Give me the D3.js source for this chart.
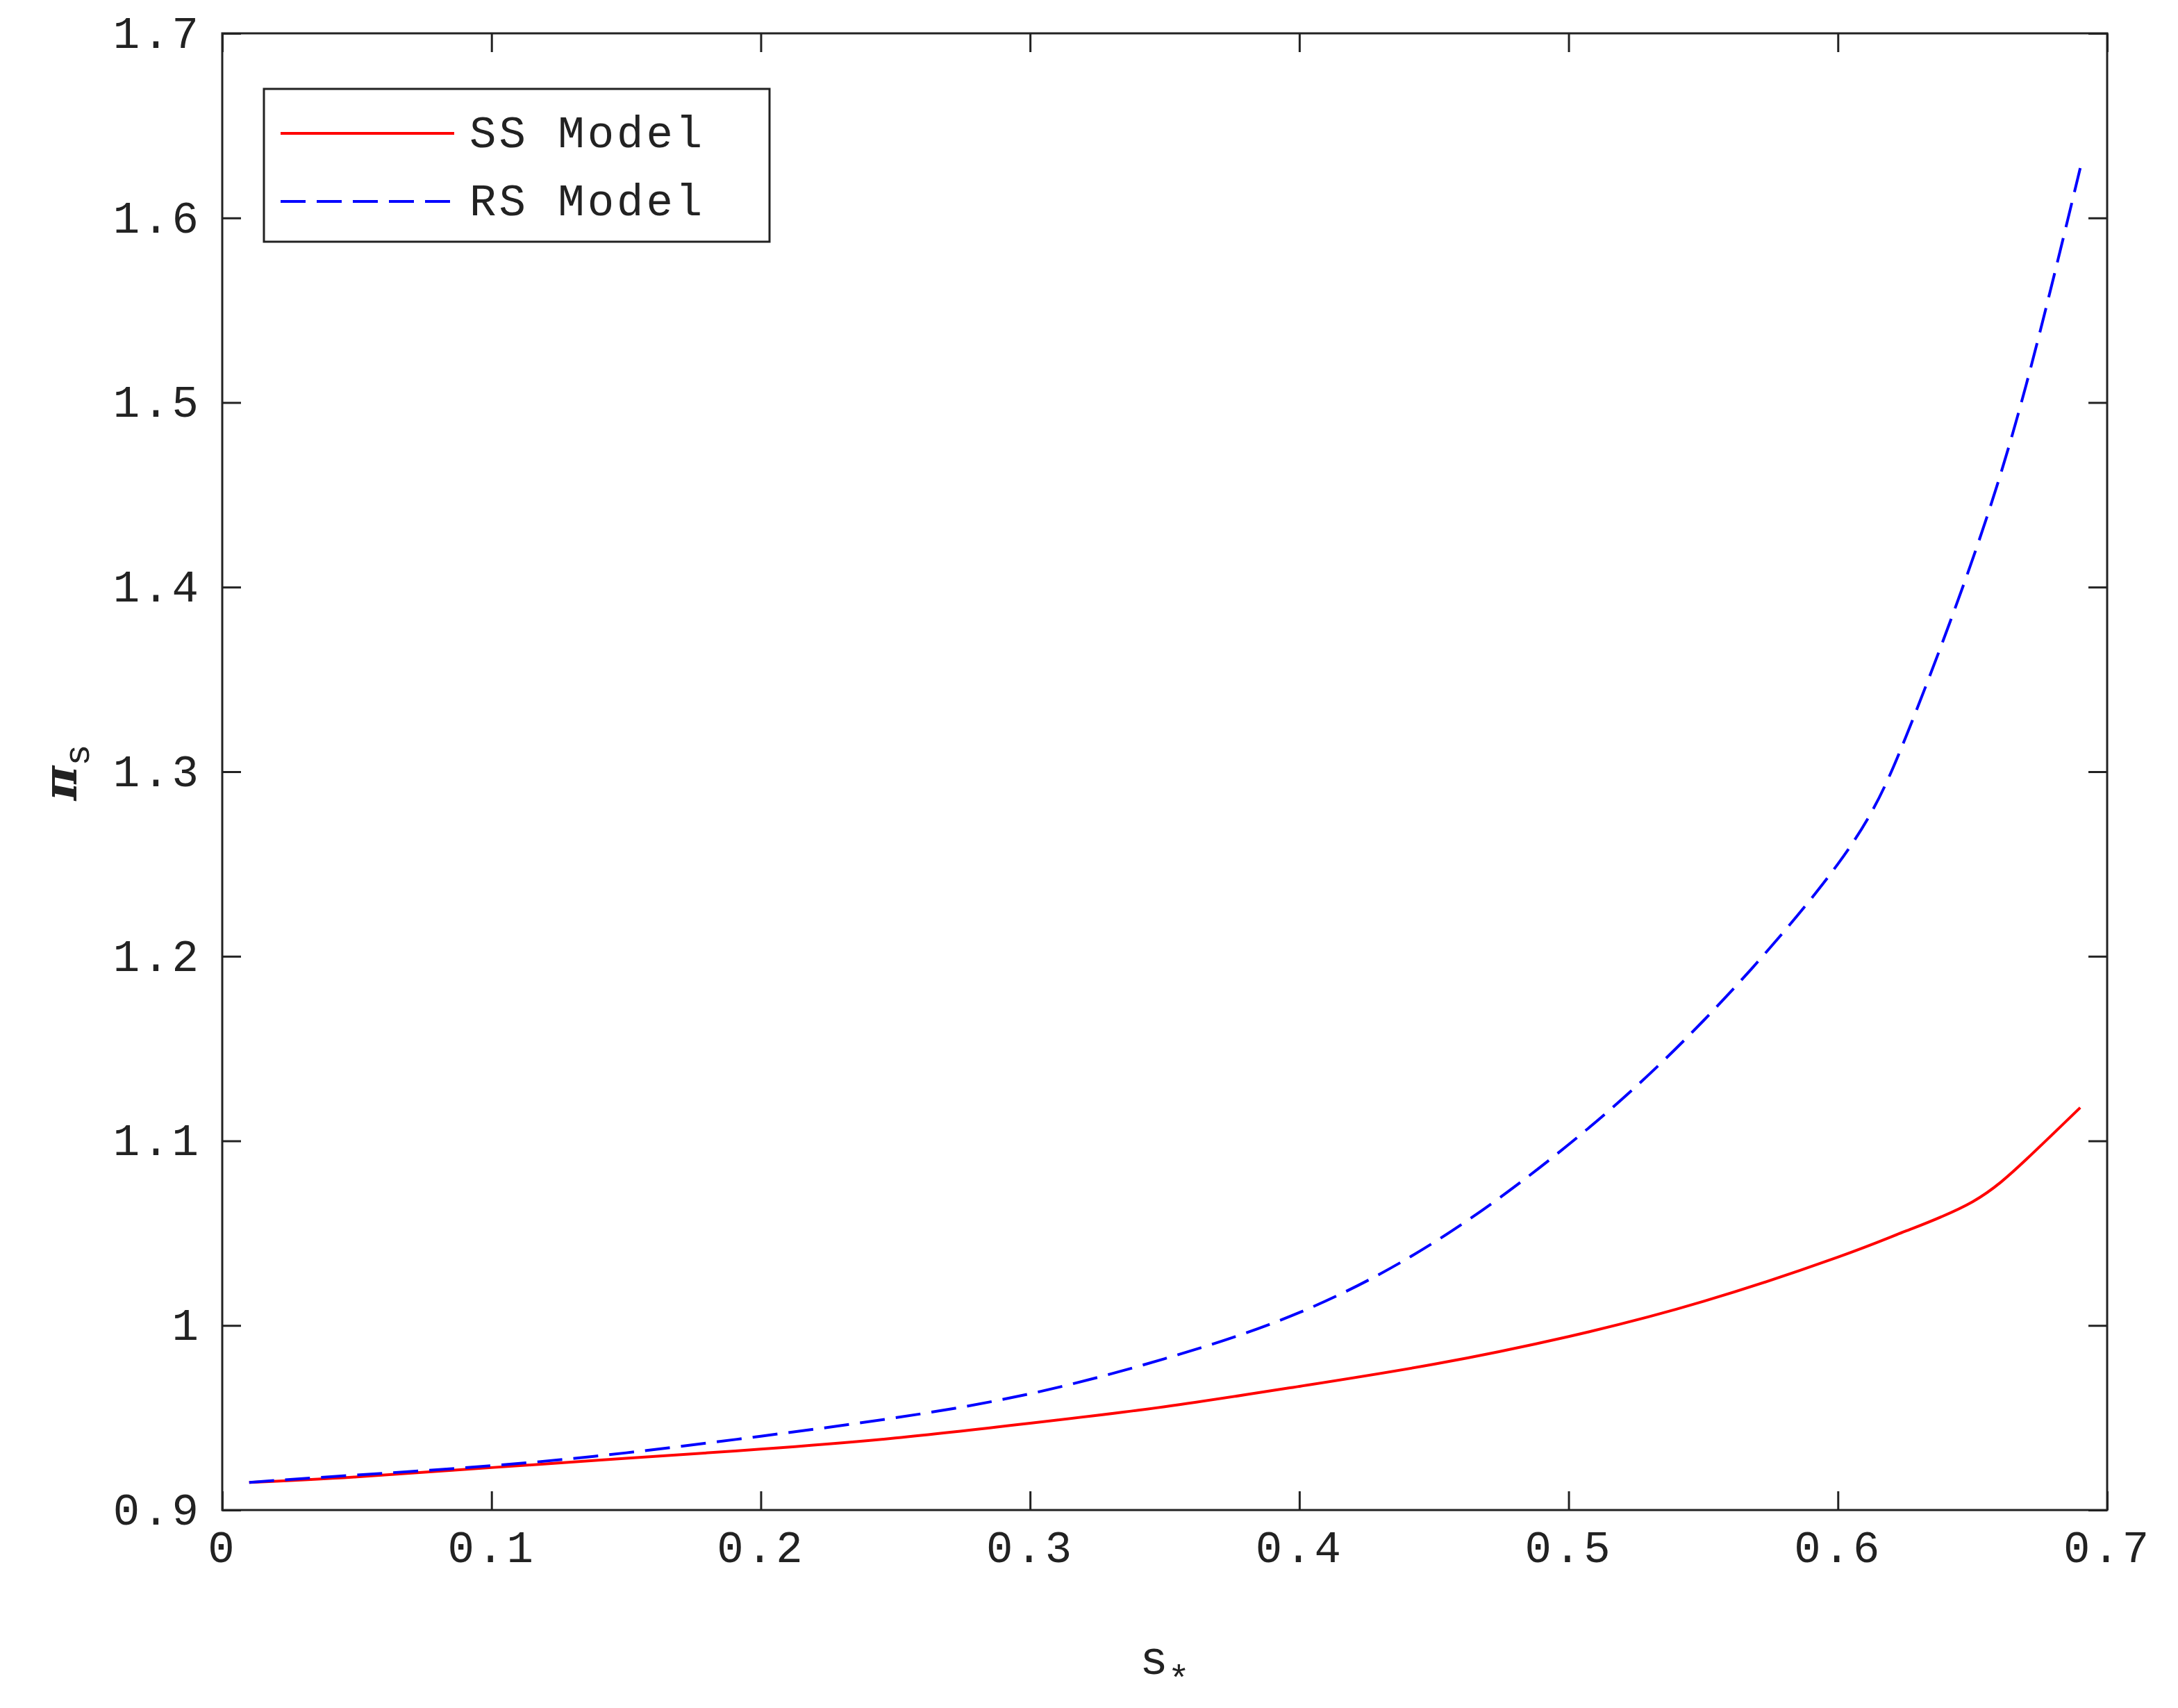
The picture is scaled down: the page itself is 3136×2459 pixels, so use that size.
<!DOCTYPE html>
<html><head><meta charset="utf-8">
<script src="https://cdn.jsdelivr.net/npm/d3@7"></script>
<style>body{margin:0;background:#fff}</style>
</head><body><svg></svg>
<script>
const xs = [0.01, 0.05, 0.1, 0.15, 0.2, 0.25, 0.3, 0.35, 0.4, 0.45, 0.5, 0.55, 0.6, 0.625, 0.65, 0.67, 0.69];
const ss = [0.915, 0.918, 0.923, 0.928, 0.933, 0.939, 0.947, 0.956, 0.967, 0.979, 0.994, 1.013, 1.037, 1.051, 1.067, 1.090, 1.118];
const rs = [0.915, 0.919, 0.924, 0.931, 0.94, 0.95, 0.963, 0.982, 1.007, 1.045, 1.098, 1.165, 1.25, 1.318, 1.415, 1.51, 1.627];
const xTicks = [0, 0.1, 0.2, 0.3, 0.4, 0.5, 0.6, 0.7];
const yTicks = [0.9, 1, 1.1, 1.2, 1.3, 1.4, 1.5, 1.6, 1.7];

const width = 3136, height = 2459;
const m = {left: 320, right: 3034, top: 48, bottom: 2174};
const font = "'Liberation Mono', monospace";
const svg = d3.select("svg").attr("width", width).attr("height", height);

const x = d3.scaleLinear().domain([0, 0.7]).range([m.left, m.right]);
const y = d3.scaleLinear().domain([0.9, 1.7]).range([m.bottom, m.top]);

const tl = 27;
const ax = (g, axis) => g.call(axis).call(g => g.select(".domain").remove())
    .call(g => g.selectAll("line").attr("stroke", "#222").attr("stroke-width", 3))
    .call(g => g.selectAll("text").attr("font-family", font).attr("font-size", 64)
        .attr("letter-spacing", 4).attr("fill", "#222"));

svg.append("g").attr("transform", `translate(0,${m.bottom})`)
    .call(g => ax(g, d3.axisBottom(x).tickValues(xTicks).tickSize(-tl).tickPadding(30).tickFormat(d => d === 0 ? "0" : d3.format(".1f")(d))));
svg.append("g").attr("transform", `translate(0,${m.top})`)
    .call(g => ax(g, d3.axisTop(x).tickValues(xTicks).tickSize(-tl).tickFormat("")));
svg.append("g").attr("transform", `translate(${m.left},0)`)
    .call(g => ax(g, d3.axisLeft(y).tickValues(yTicks).tickSize(-tl).tickPadding(30).tickFormat(d => d === 1 ? "1" : d3.format(".1f")(d))));
svg.append("g").attr("transform", `translate(${m.right},0)`)
    .call(g => ax(g, d3.axisRight(y).tickValues(yTicks).tickSize(-tl).tickFormat("")));

svg.append("rect").attr("x", m.left).attr("y", m.top)
    .attr("width", m.right - m.left).attr("height", m.bottom - m.top)
    .attr("fill", "none").attr("stroke", "#222").attr("stroke-width", 3);

const line = d3.line().x(d => x(d[0])).y(d => y(d[1])).curve(d3.curveNatural);
svg.append("path").datum(xs.map((v, i) => [v, ss[i]])).attr("d", line)
    .attr("fill", "none").attr("stroke", "#ff0000").attr("stroke-width", 4);
svg.append("path").datum(xs.map((v, i) => [v, rs[i]])).attr("d", line)
    .attr("fill", "none").attr("stroke", "#0000ff").attr("stroke-width", 4).attr("stroke-dasharray", "36,16");

// labels
svg.append("text").attr("x", (m.left + m.right) / 2).attr("y", 2410).attr("text-anchor", "middle")
    .attr("font-family", font).attr("font-size", 68).attr("fill", "#222")
    .text("s").append("tspan").attr("dy", 24).attr("font-size", 52).text("*");
svg.append("text").attr("transform", "translate(110,1112) rotate(-90)").attr("text-anchor", "middle")
    .attr("font-family", font).attr("font-size", 68).attr("fill", "#222")
    .call(t => t.append("tspan").attr("font-family", "'DejaVu Serif', serif").attr("font-style", "italic").attr("font-weight", "bold").text("π"))
    .call(t => t.append("tspan").attr("dy", 18).attr("font-size", 52).text("s"));

// legend
const lg = svg.append("g");
lg.append("rect").attr("x", 380).attr("y", 128).attr("width", 728).attr("height", 220)
    .attr("fill", "#fff").attr("stroke", "#222").attr("stroke-width", 3);
[["SS Model", "#ff0000", null, 192], ["RS Model", "#0000ff", "36,16", 290]].forEach(([name, c, dash, ly]) => {
    lg.append("line").attr("x1", 404).attr("x2", 654).attr("y1", ly).attr("y2", ly)
        .attr("stroke", c).attr("stroke-width", 4).attr("stroke-dasharray", dash);
    lg.append("text").attr("x", 676).attr("y", ly + 20).attr("font-family", font).attr("font-size", 64)
        .attr("letter-spacing", 4).attr("fill", "#222").text(name);
});
</script></body></html>
